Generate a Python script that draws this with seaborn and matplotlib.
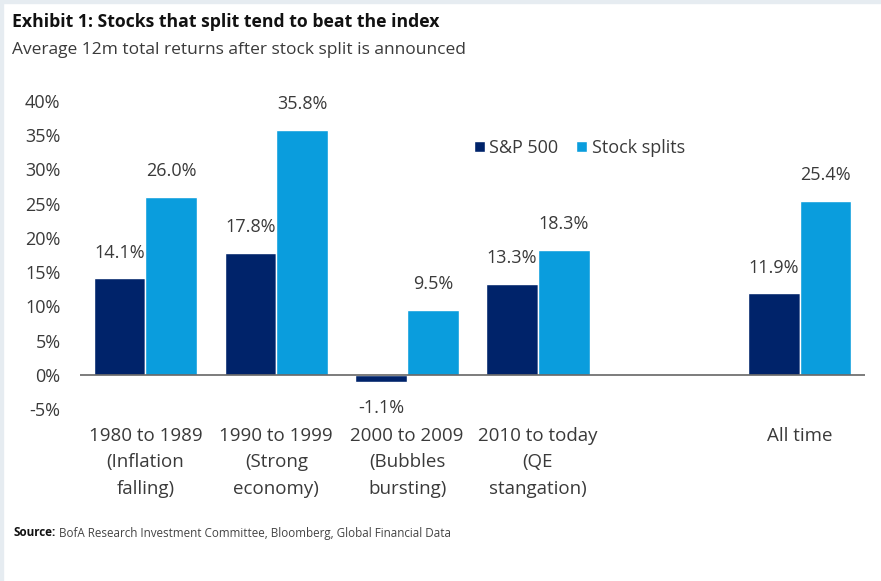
import matplotlib
matplotlib.use("Agg")
import matplotlib.pyplot as plt
import seaborn as sns
import pandas as pd
import numpy as np

categories = ["1980 to 1989\n(Inflation\nfalling)", "1990 to 1999\n(Strong\neconomy)",
              "2000 to 2009\n(Bubbles\nbursting)", "2010 to today\n(QE\nstangation)",
              " ", "All time"]
sp500 = [14.1, 17.8, -1.1, 13.3, np.nan, 11.9]
splits = [26.0, 35.8, 9.5, 18.3, np.nan, 25.4]
series = ["S&P 500", "Stock splits"]
colors = ["#00236a", "#0a9ddd"]
yticks = [-5, 0, 5, 10, 15, 20, 25, 30, 35, 40]

sns.set_theme(style="white")
plt.rcParams["font.family"] = ["Open Sans", "DejaVu Sans"]

rows = []
for c, a, b in zip(categories, sp500, splits):
    if not np.isnan(a):
        rows.append({"cat": c, "series": series[0], "val": a})
        rows.append({"cat": c, "series": series[1], "val": b})
df = pd.DataFrame(rows)

fig = plt.figure(figsize=(8.81, 5.81), dpi=100, facecolor="white")
fig.patches.append(plt.Rectangle((0, 0), 3 / 881, 1, transform=fig.transFigure, color="#e6ecf1", zorder=0))
fig.patches.append(plt.Rectangle((0, 1 - 3 / 581), 1, 3 / 581, transform=fig.transFigure, color="#e6ecf1", zorder=0))

ax = fig.add_axes([80 / 881, 172 / 581, 785 / 881, 308 / 581])
sns.barplot(data=df, x="cat", y="val", hue="series", order=categories, hue_order=series,
            palette=colors, width=0.79, saturation=1, ax=ax, errorbar=None, legend=True)

tc = "#3a3a3a"
ax.set_xlim(-0.5, 5.5)
ax.set_ylim(-5, 40)
ax.set_yticks(yticks)
ax.set_yticklabels([f"{t}%" for t in yticks], fontsize=13, color=tc)
ax.set_xticks(range(len(categories)))
ax.set_xticklabels([c.strip() for c in categories], fontsize=13.5, color=tc, linespacing=1.6)
ax.tick_params(axis="x", length=0, pad=13)
ax.tick_params(axis="y", length=0, pad=14)
ax.set_xlabel("")
ax.set_ylabel("")
for s in ax.spines.values():
    s.set_visible(False)
ax.axhline(0, color="#666666", lw=1.2, zorder=3)

for cont in ax.containers:
    labs = [f"{v:.1f}%" for v in cont.datavalues]
    ax.bar_label(cont, labels=labs, padding=12, fontsize=13, color=tc)

leg = ax.legend(loc="upper left", bbox_to_anchor=(0.481, 0.93), frameon=False, ncol=2,
                fontsize=13, handlelength=0.6, handleheight=0.6, handletextpad=0.25,
                columnspacing=1.0, labelcolor=tc)

fig.text(12 / 881, 1 - 22 / 581, "Exhibit 1: Stocks that split tend to beat the index",
         fontsize=12.7, fontweight="bold", color="#111111", va="center", ha="left")
fig.text(12 / 881, 1 - 50 / 581, "Average 12m total returns after stock split is announced",
         fontsize=12.5, color=tc, va="center", ha="left")
t1 = fig.text(14 / 881, 1 - 533 / 581, "Source:", fontsize=8.4, fontweight="bold", color="#111111",
              va="center", ha="left")
fig.canvas.draw()
bb = t1.get_window_extent()
fig.text((bb.x1 + 3) / 881, 1 - 533 / 581,
         "BofA Research Investment Committee, Bloomberg, Global Financial Data",
         fontsize=8.4, color="#444444", va="center", ha="left")

fig.savefig("out.png", dpi=100, facecolor="white")
